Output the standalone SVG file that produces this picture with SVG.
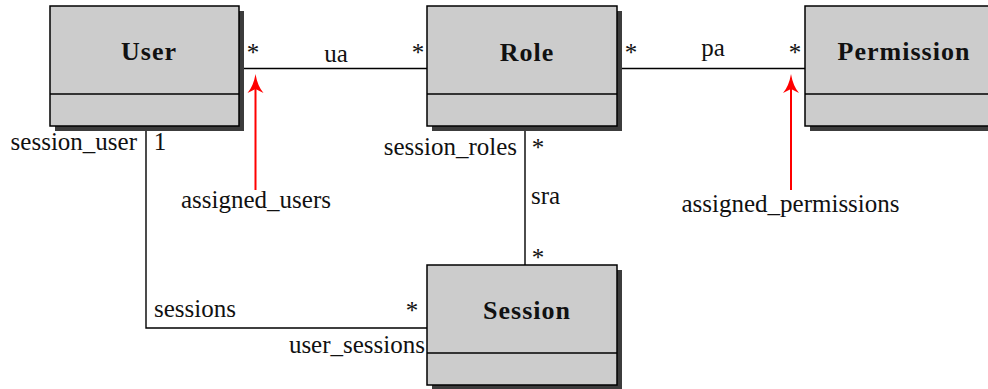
<svg xmlns="http://www.w3.org/2000/svg" width="988" height="389" viewBox="0 0 988 389">
  <style>
    .shadow { fill: #3c3c3c; }
    .box { fill: #cccccc; stroke: #000; stroke-width: 1.5; }
    .div { stroke: #000; stroke-width: 1.5; }
    text { font-family: 'Liberation Serif', 'DejaVu Serif', serif; fill: #111; }
    .title { font-weight: bold; font-size: 26px; letter-spacing: 1px; text-anchor: middle; }
    .lbl { font-size: 25px; }
    .mid { text-anchor: middle; }
    .end { text-anchor: end; }
    .conn { fill: none; stroke: #000; stroke-width: 1.4; }
    .red { fill: none; stroke: #ff0000; stroke-width: 2; }
    .redhead { fill: #ff0000; stroke: none; }
  </style>
  <rect width="988" height="389" fill="#ffffff"/>

  <g id="connectors" font-family="Liberation Serif, DejaVu Serif, serif">
    <path class="conn" d="M239 68.5 H427"/>
    <path class="conn" d="M617 68.5 H805"/>
    <path class="conn" d="M525 126 V265"/>
    <path class="conn" d="M146 126 V328 H427"/>
    <text class="lbl mid" x="336" y="61.5">ua</text>
    <text class="lbl mid" x="713" y="56">pa</text>
    <text class="lbl" x="531" y="204">sra</text>
    <text class="lbl mid" x="253" y="60.5">*</text>
    <text class="lbl mid" x="418" y="60.5">*</text>
    <text class="lbl mid" x="631" y="60.5">*</text>
    <text class="lbl mid" x="795" y="60.5">*</text>
    <text class="lbl end" x="137" y="150">session_user</text>
    <text class="lbl mid" x="160" y="150">1</text>
    <text class="lbl end" x="517" y="155">session_roles</text>
    <text class="lbl mid" x="538" y="155.5">*</text>
    <text class="lbl mid" x="538" y="266">*</text>
    <text class="lbl" x="154" y="317">sessions</text>
    <text class="lbl mid" x="412" y="318.5">*</text>
    <text class="lbl end" x="425" y="353">user_sessions</text>
  </g>

  <g id="annot-users">
    <path class="red" d="M255.5 190 V82"/>
    <path class="redhead" d="M255.5 74 Q257.5 86 263.5 93 L255.5 89 L247.5 93 Q253.5 86 255.5 74 Z"/>
    <text class="lbl mid" x="256" y="208">assigned_users</text>
  </g>

  <g id="annot-perms">
    <path class="red" d="M791 190 V82"/>
    <path class="redhead" d="M791 74 Q793 86 799 93 L791 89 L783 93 Q789 86 791 74 Z"/>
    <text class="lbl mid" x="790.5" y="211.5">assigned_permissions</text>
  </g>

  <g id="user">
    <rect class="shadow" x="55" y="11" width="189" height="120"/>
    <rect class="box" x="50" y="6" width="189" height="120"/>
    <line class="div" x1="50" y1="94" x2="239" y2="94"/>
    <text class="title" x="149" y="60">User</text>
  </g>

  <g id="role">
    <rect class="shadow" x="432" y="11" width="190" height="120"/>
    <rect class="box" x="427" y="6" width="190" height="120"/>
    <line class="div" x1="427" y1="94" x2="617" y2="94"/>
    <text class="title" x="527" y="60.5">Role</text>
  </g>

  <g id="permission">
    <rect class="shadow" x="810" y="11" width="190" height="120"/>
    <rect class="box" x="805" y="6" width="190" height="120"/>
    <line class="div" x1="805" y1="94" x2="995" y2="94"/>
    <text class="title" x="904" y="60">Permission</text>
  </g>

  <g id="session">
    <rect class="shadow" x="432" y="270" width="190" height="120"/>
    <rect class="box" x="427" y="265" width="190" height="120"/>
    <line class="div" x1="427" y1="353" x2="617" y2="353"/>
    <text class="title" x="527" y="319">Session</text>
  </g>
</svg>
